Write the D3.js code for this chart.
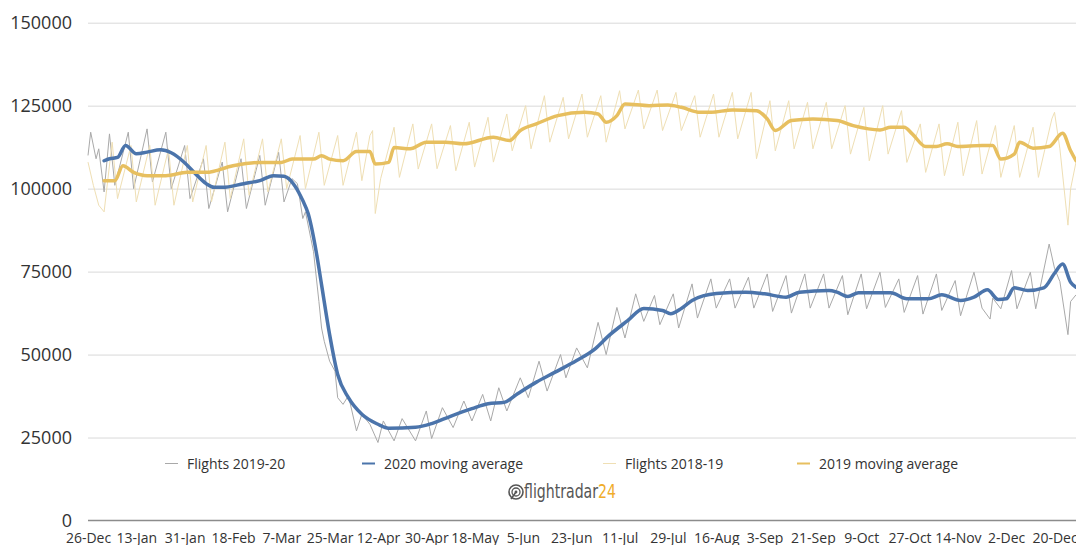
<!DOCTYPE html>
<html>
<head>
<meta charset="utf-8">
<script src="https://cdn.jsdelivr.net/npm/d3@7"></script>
<style>
  body { margin: 0; background: #fff; }
  svg { display: block; font-family: "Open Sans", sans-serif; }
</style>
</head>
<body>
<script>
// days counted from 26-Dec-2019, values in thousands of flights
var flights2020 = [[0,110],[1,117],[3,109],[4,112],[6,99],[8,116.5],[10,101],[15,117],[17,100],[22,118],[24,102],
  [29,117],[31,100],[36,113],[38,97],[43,109],[45,94],[50,108],[52,93],[57,109],[59,94],[64,110],[66,95],[71,111],
  [73,96],[76,103],[78,101.5],[80,91],[81,93],[83,85],[84,81],[86,66],[87,58],[88,54],[90,48],[92,45],[93,37],
  [95,35],[97,37.6],[100,27],[102,32],[105,29],[108,23.5],[110,30],[114,24],[117,30.7],[122,24],[126,33],[128,24.7],
  [132,34],[136,28],[140,36],[143,30],[147,38],[150,30],[153,40],[156,33],[161,43],[164,37],[168,48],[171,39],
  [176,50],[178,43],[182,52],[186,46],[190,59.7],[193,50],[197,64.2],[200,55],[204,68.3],[207,60],[211,67.8],
  [213,59],[218,68.3],[220,58],[225,71.3],[227,61],[232,72.8],[234,64],[239,72.8],[241,64],[246,73.3],[248,64],
  [253,74.3],[255,63],[260,73.8],[262,62.5],[267,74.3],[269,64],[274,74.3],[276,64],[281,73.8],[283,62],
  [288,74.3],[290,63.8],[295,74.8],[297,64.2],[302,72.8],[304,62.7],[309,73.8],[311,62.2],[316,74.3],[318,63.3],
  [323,72.3],[325,61.7],[330,74.8],[333,64],[336,60.7],[337,67],[340,63.8],[344,75.3],[346,63.8],[351,74.8],
  [353,63.8],[358,83.3],[360,76],[362,72],[365,56],[366,66],[368,68]];

var avg2020 = [[6,108.4],[8,109],[11,109.4],[14,113],[18,110.5],[22,111],[27,111.7],[31,110.8],[36,107.8],
  [40,104.5],[44,101.5],[47,100.4],[50,100.4],[58,101.5],[64,102.4],[69,103.9],[73,103.7],[77,100.9],[80,96.4],
  [82,92.5],[85,81],[87,71],[90,56],[93,44],[97,37],[102,32],[108,29],[112,27.8],[122,28.1],[128,29.2],[135,31.4],
  [143,33.7],[149,35.2],[155,35.6],[160,38.2],[167,41.7],[174,44.7],[182,48.2],[189,51.8],[194,55.7],[201,60.2],
  [207,63.9],[214,63.3],[217,62.3],[221,63.9],[225,66.3],[234,68.4],[245,68.8],[252,68.3],[260,67.3],[265,68.8],
  [276,69.3],[279,68.8],[283,67.5],[287,68.6],[299,68.6],[305,66.8],[313,66.8],[318,68],[325,66.3],[330,67.3],
  [335,69.5],[339,66.6],[342,66.8],[345,70.1],[350,69.3],[356,70.1],[360,74.5],[363,77.3],[366,71.8],[368,70.3]];

var flights2019 = [[0,108],[2,101],[4,95],[6,93],[9,114],[11,97],[16,113],[18,96],[23,113],[25,95],[30,112],
  [32,95],[37,113],[39,96],[44,113],[46,96],[51,114],[53,97],[58,115],[60,98],[65,115],[67,99],[72,115],[74,100],
  [79,116],[81,100],[86,117],[88,101],[93,116],[95,101],[100,117],[102,102.4],[105,116],[106,117.5],[107,92.5],
  [109,103],[114,118.5],[116,103.4],[121,119.5],[123,105.9],[128,119.5],[130,106],[135,119],[137,105.4],[142,120],
  [144,106.5],[149,121.5],[151,108],[156,122.5],[158,111.4],[163,125],[165,112],[170,128],[172,114],[177,127.5],
  [179,115],[184,128.5],[186,115.5],[191,128],[193,114],[198,129.5],[200,118],[205,129.7],[207,118],[212,129.7],
  [214,117.5],[219,129],[221,117.5],[226,128],[228,115.5],[233,128.5],[235,115.5],[240,129],[242,115],[247,129],
  [249,109],[254,126.5],[256,111.4],[261,126.5],[263,112],[268,126],[270,112],[275,126],[277,112],[282,125],
  [284,110.4],[289,124.5],[291,108.4],[296,125],[298,110.4],[303,123.5],[305,107.9],[310,119.5],[312,104.9],
  [317,119.5],[319,103.9],[324,120],[326,103.9],[331,120.5],[333,104.4],[338,119],[340,103.4],[345,119],
  [347,103.4],[352,118.5],[354,103.4],[359,121],[360,123],[362,112],[365,89],[366,100],[368,108]];

var avg2019 = [[6,102.4],[10,102.4],[13,106.9],[17,104.9],[22,103.9],[29,103.9],[37,104.9],[44,104.9],[54,106.9],
  [64,107.9],[72,107.9],[76,108.9],[84,108.9],[87,109.9],[90,108.9],[95,108.4],[100,111.2],[105,111.2],[107,107.4],
  [112,107.9],[114,112.4],[120,112],[126,114],[133,114],[140,113.5],[151,115.5],[157,114.5],[161,117.5],[167,119.5],
  [175,122],[185,123],[190,122.5],[193,120],[197,122],[200,125.5],[209,125],[216,125.2],[221,124.5],[228,123],
  [232,123],[240,123.7],[249,123.5],[253,121],[256,117.5],[262,120.5],[270,121],[279,120.5],[285,119],[295,117.7],
  [299,118.5],[304,118.5],[307,116.5],[312,112.7],[316,112.7],[320,113.5],[324,112.7],[333,113],[337,113],
  [340,108.9],[345,110.4],[347,114],[352,112.2],[358,112.7],[363,116.7],[366,111.4],[368,108.4]];

var xLabels = ["26-Dec","13-Jan","31-Jan","18-Feb","7-Mar","25-Mar","12-Apr","30-Apr","18-May","5-Jun","23-Jun",
  "11-Jul","29-Jul","16-Aug","3-Sep","21-Sep","9-Oct","27-Oct","14-Nov","2-Dec","20-Dec"];
var yTicks = [0, 25, 50, 75, 100, 125, 150];
var seriesNames = ["Flights 2019-20", "2020 moving average", "Flights 2018-19", "2019 moving average"];

var width = 1076, height = 545;
var left = 88, zeroY = 520.5, topY = 22.7;
var colors = ["#a9a9a9", "#4b74ab", "#efdfb4", "#e7bf5f"];
var widths = [1, 3.5, 1, 3.5];

const svg = d3.select("body")
    .append("svg")
    .attr("width", width)
    .attr("height", height);

var x = d3.scaleLinear().domain([0, 368]).range([left, width]);
var y = d3.scaleLinear().domain([0, 150]).range([zeroY, topY]);

// grid
svg.append("g")
    .attr("transform", `translate(${left},0)`)
    .call(d3.axisLeft(y).tickValues(yTicks.slice(1)).tickSize(-(width - left)).tickFormat(""))
    .call(g => g.select(".domain").remove())
    .call(g => g.selectAll("line").attr("stroke", "#d9d9d9"));

svg.append("line")
    .attr("x1", left).attr("x2", width)
    .attr("y1", y(0)).attr("y2", y(0))
    .attr("stroke", "#8c8c8c").attr("stroke-width", 1.3);

// y-axis labels
svg.append("g")
    .attr("transform", `translate(${left},0)`)
    .call(d3.axisLeft(y).tickValues(yTicks).tickSize(0).tickPadding(16).tickFormat(d => d * 1000))
    .call(g => g.select(".domain").remove())
    .call(g => g.selectAll("text")
        .attr("font-family", "Open Sans").attr("font-size", 18).attr("fill", "#333"));

// x-axis labels
svg.append("g")
    .attr("transform", `translate(0,${zeroY})`)
    .call(d3.axisBottom(x).tickValues(xLabels.map((d, i) => i * 18)).tickSize(0).tickPadding(13)
        .tickFormat((d, i) => xLabels[i]))
    .call(g => g.select(".domain").remove())
    .call(g => g.selectAll("text")
        .attr("font-family", "Open Sans").attr("font-size", 14).attr("fill", "#333"));

var line = d3.line()
    .x(d => x(d[0]))
    .y(d => y(d[1]));
var smooth = d3.line()
    .x(d => x(d[0]))
    .y(d => y(d[1]))
    .curve(d3.curveMonotoneX);

[flights2020, flights2019].forEach((s, i) => {
    svg.append("path")
        .datum(s)
        .attr("fill", "none")
        .attr("stroke", colors[i * 2])
        .attr("stroke-width", 1)
        .attr("stroke-linejoin", "round")
        .attr("d", line);
});
[avg2020, avg2019].forEach((s, i) => {
    svg.append("path")
        .datum(s)
        .attr("fill", "none")
        .attr("stroke", colors[i * 2 + 1])
        .attr("stroke-width", 3.5)
        .attr("stroke-linejoin", "round")
        .attr("stroke-linecap", "round")
        .attr("d", smooth);
});

// legend
var legendX = [165, 362, 603, 797];
seriesNames.forEach((d, i) => {
    svg.append("line")
        .attr("x1", legendX[i]).attr("x2", legendX[i] + 13)
        .attr("y1", 463.5).attr("y2", 463.5)
        .attr("stroke", colors[i])
        .attr("stroke-width", widths[i] > 1 ? 2 : 1);
    svg.append("text")
        .attr("x", legendX[i] + 22)
        .attr("y", 469)
        .attr("font-size", 14)
        .attr("fill", "#333")
        .text(d);
});

// flightradar24 logo
var logo = svg.append("g").attr("transform", "translate(516,492)");
logo.append("circle").attr("r", 7).attr("fill", "none").attr("stroke", "#555").attr("stroke-width", 1.6);
logo.append("circle").attr("r", 4).attr("fill", "none").attr("stroke", "#555").attr("stroke-width", 1.3);
logo.append("circle").attr("r", 1.4).attr("fill", "#555");
logo.append("line").attr("x1", 0).attr("y1", 0).attr("x2", -5).attr("y2", 7)
    .attr("stroke", "#555").attr("stroke-width", 1.6);
var brand = logo.append("text")
    .attr("x", 8).attr("y", 6)
    .attr("font-family", "DejaVu Sans Condensed, DejaVu Sans")
    .attr("font-size", 20)
    .attr("fill", "#555")
    .attr("textLength", 92)
    .attr("lengthAdjust", "spacingAndGlyphs");
brand.append("tspan").text("flightradar");
brand.append("tspan").attr("fill", "#f0ac2a").text("24");
</script>
</body>
</html>
